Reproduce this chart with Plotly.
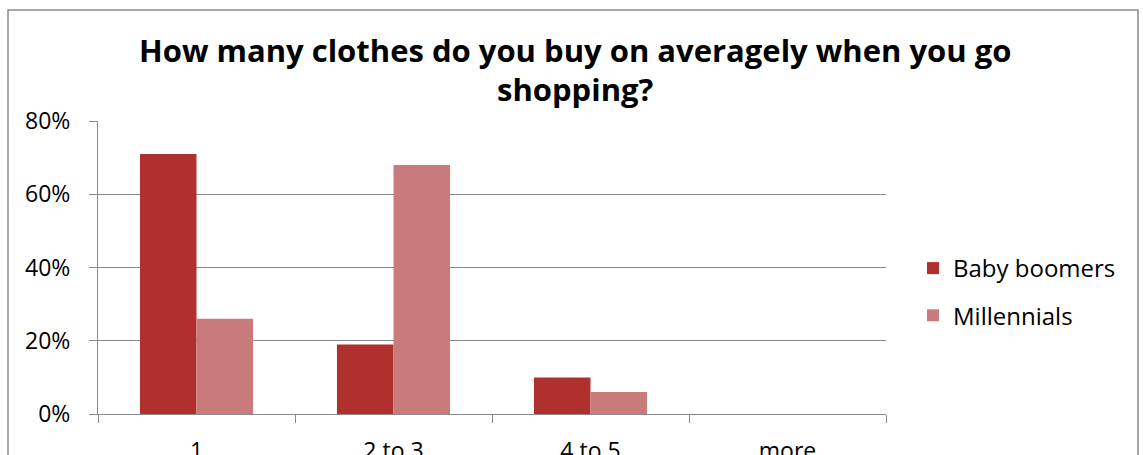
import plotly.graph_objects as go

categories = ["1", "2 to 3", "4 to 5", "more"]
baby_boomers = [0.71, 0.19, 0.10, 0.0]
millennials = [0.26, 0.68, 0.06, 0.0]
y_ticks = [0, 0.2, 0.4, 0.6, 0.8]
title_line1 = "How many clothes do you buy on averagely when you go"
title_line2 = "shopping?"

W, H = 1143, 455
L, R, T, B = 98, 1143 - 886, 121, 455 - 414
PW, PH = W - L - R, H - T - B

def px(x):
    return (x - L) / PW

def py(y):
    return (H - B - y) / PH

FONT = "Open Sans"
GRAY = "#8a8a8a"

fig = go.Figure()
fig.add_trace(go.Bar(
    x=categories, y=baby_boomers, name="Baby boomers",
    marker=dict(color="#b0302e", line=dict(width=0)),
    legendgroup="a",
))
fig.add_trace(go.Bar(
    x=categories, y=millennials, name="Millennials",
    marker=dict(color="#c97b7b", line=dict(width=0)),
    legendgroup="b",
))

fig.update_layout(
    width=W, height=H,
    margin=dict(l=L, r=R, t=T, b=B, autoexpand=False),
    paper_bgcolor="white", plot_bgcolor="white",
    barmode="group", bargap=0.426, bargroupgap=0,
    font=dict(family=FONT, size=23, color="black"),
    showlegend=True,
    legend=dict(
        x=px(913), xanchor="left", y=py(246), yanchor="top",
        font=dict(family=FONT, size=24, color="black"),
        tracegroupgap=13, bgcolor="rgba(0,0,0,0)",
    ),
    xaxis=dict(
        automargin=False,
        showgrid=False, showline=True, linecolor=GRAY, linewidth=1,
        ticks="outside", tickson="boundaries", ticklen=8, tickcolor=GRAY,
        tickfont=dict(family=FONT, size=23, color="black"),
        ticklabelstandoff=16,
    ),
    yaxis=dict(
        automargin=False,
        range=[0, 0.8], tickvals=y_ticks, tickformat=".0%",
        showgrid=True, gridcolor=GRAY, gridwidth=1,
        showline=True, linecolor=GRAY, linewidth=1,
        ticks="outside", ticklen=8, tickcolor=GRAY,
        tickfont=dict(family=FONT, size=23, color="black"),
        ticklabelstandoff=14, zeroline=False,
    ),
    annotations=[
        dict(text="<b>" + title_line1 + "</b>", xref="paper", yref="paper",
             x=px(575), y=py(50), xanchor="center", yanchor="middle",
             showarrow=False, font=dict(family=FONT, size=31, color="black")),
        dict(text="<b>" + title_line2 + "</b>", xref="paper", yref="paper",
             x=px(575), y=py(89), xanchor="center", yanchor="middle",
             showarrow=False, font=dict(family=FONT, size=31, color="black")),
    ],
    shapes=[
        dict(type="rect", xref="paper", yref="paper",
             x0=px(8), x1=px(1138), y0=py(10), y1=py(600),
             line=dict(color=GRAY, width=1.5), fillcolor="rgba(0,0,0,0)",
             layer="below"),
    ],
)

fig.write_html("out.html", config={"displayModeBar": False},
               post_script="document.body.style.margin='0';")
